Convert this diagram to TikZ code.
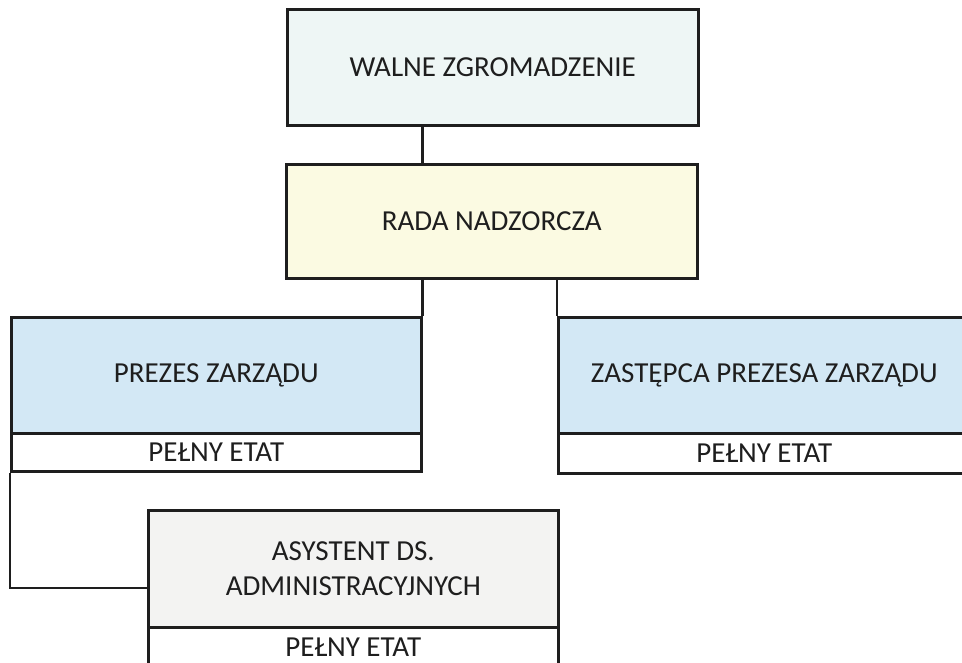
\documentclass[tikz,border=0pt]{standalone}
\usepackage{fontspec}
\setmainfont{Carlito}
\definecolor{linec}{HTML}{1E1E1E}
\definecolor{walnec}{HTML}{EEF6F5}
\definecolor{radac}{HTML}{FBFAE2}
\definecolor{prezc}{HTML}{D3E8F5}
\definecolor{asysc}{HTML}{F3F3F2}
\tikzset{
  orgbox/.style={draw=linec, line width=2.6pt, rectangle, inner sep=0pt, anchor=north west,
    font=\fontsize{29}{35}\selectfont, text=linec, align=center},
  etatbox/.style={orgbox, fill=white},
  conn/.style={draw=linec, line width=2.6pt}
}
\begin{document}
\begin{tikzpicture}[x=1pt,y=-1pt]
\useasboundingbox (0,0) rectangle (962,662);
\clip (0,0) rectangle (962,662);
\fill[white] (0,0) rectangle (962,662);
\node[orgbox, fill=walnec, minimum width=411pt, minimum height=116pt] (walne) at (286,8) {WALNE ZGROMADZENIE};
\node[orgbox, fill=radac, minimum width=411pt, minimum height=114pt] (rada) at (285,163) {RADA NADZORCZA};
\node[orgbox, fill=prezc, minimum width=410pt, minimum height=116pt] (prezes) at (10,316) {PREZES ZARZĄDU};
\node[etatbox, minimum width=410pt, minimum height=38pt] (petat) at (10,432) {PEŁNY ETAT};
\node[orgbox, fill=prezc, minimum width=412pt, minimum height=116pt] (zast) at (557,316) {ZASTĘPCA PREZESA ZARZĄDU};
\node[etatbox, minimum width=412pt, minimum height=40pt] (zetat) at (557,432) {PEŁNY ETAT};
\node[orgbox, fill=asysc, minimum width=410pt, minimum height=117pt] (asyst) at (147,509) {ASYSTENT DS.\\ADMINISTRACYJNYCH};
\node[etatbox, minimum width=410pt, minimum height=40pt] (aetat) at (147,626) {PEŁNY ETAT};
\draw[conn] (walne.south -| prezes.east) -- (rada.north -| prezes.east);
\draw[conn] (rada.south -| prezes.east) -- (prezes.north east);
\draw[conn] (rada.south -| zast.west) -- (zast.north west);
\draw[conn] (petat.south west) |- ([yshift=-19pt]asyst.west);
\end{tikzpicture}
\end{document}
